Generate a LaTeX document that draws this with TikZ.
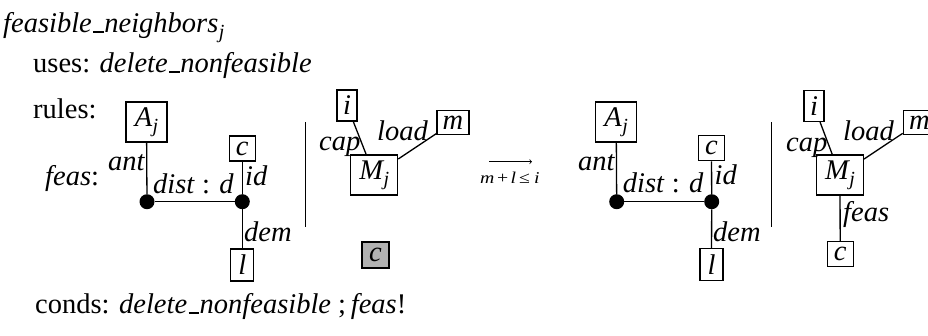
\documentclass[tikz,border=0pt]{standalone}
\usepackage{fontspec}
\setmainfont{Liberation Serif}
\newfontfamily\lblfont[FakeStretch=1.2]{Liberation Serif}
\usetikzlibrary{arrows}
\newcommand\us{\kern0.05em\rule[-0.02em]{0.37em}{0.07em}\kern0.02em}
\newcommand\sbj{\kern0.5pt\raisebox{-6pt}{\fontsize{20}{21}\selectfont\itshape j}}
\begin{document}
\begin{tikzpicture}[x=1pt,y=-1pt,
  every node/.style={font=\fontsize{28.5}{30}\selectfont},
  lbl/.style={anchor=base west,inner sep=0pt},
  box/.style={draw,line width=1.1pt,inner sep=0pt,font=\fontsize{28.5}{30}\selectfont\itshape},
  dot/.style={circle,fill,inner sep=0pt,minimum size=15pt},
  edge/.style={line width=1.3pt},
  sep/.style={line width=1.5pt}]
\path[use as bounding box] (0,0) rectangle (928,335);
% header
\node[lbl] (title) at (3,32) {\textit{feasible\us neighbors}\sbj};
\node[lbl] (uses) at (33,72) {uses: \textit{delete\us nonfeasible}};
\node[lbl] (rules) at (33,118) {rules:};
\node[lbl] (feaslbl) at (45,185) {\textit{feas}:};
\node[lbl] (conds) at (35,313) {conds: \textit{delete\us nonfeasible} ;\,\textit{feas}!};
% left graph
\node[box,minimum width=41pt,minimum height=40pt] (A1) at (146.5,122) {A\sbj};
\node[dot] (d1a) at (147,201.7) {};
\node[dot] (d1b) at (242.3,201.7) {};
\node[box,minimum width=26pt,minimum height=25pt] (c1) at (242.3,148.5) {c};
\node[box,minimum width=23pt,minimum height=32pt] (l1) at (242.3,265) {l};
\draw[edge] (A1) -- (d1a);
\draw[edge] (d1a) -- (d1b);
\draw[edge] (c1) -- (d1b);
\draw[edge] (d1b) -- (l1);
\node[lbl] (ant1) at (108,170) {\textit{ant}};
\node[lbl] (dist1) at (153,193) {\textit{dist} : \textit{d}};
\node[lbl] (id1) at (245,185) {\textit{id}};
\node[lbl] (dem1) at (244,241.7) {\textit{dem}};
\coordinate (v1t) at (305.7,122);
\coordinate (v1b) at (305.7,227);
\draw[sep] (v1t) -- (v1b);
\node[box,minimum width=20pt,minimum height=31pt] (i1) at (347,105.5) {i};
\node[box,minimum width=47pt,minimum height=40pt] (M1) at (374.2,175) {M\sbj};
\node[box,minimum width=32pt,minimum height=24pt] (m1) at (453,122.5) {m};
\draw[edge] (i1) -- (M1);
\draw[edge] (M1) -- (m1);
\node[lbl] (cap1) at (319,150) {\textit{cap}};
\node[lbl] (load1) at (377,140) {\textit{load}};
\node[box,fill=black!30,minimum width=27pt,minimum height=26pt] (cg) at (375.5,255) {c};
% arrow
\coordinate (a1) at (489,161.7);
\coordinate (a2) at (532,161.7);
\draw[line width=0.8pt,-to] (a1) -- (a2);
\node[anchor=base west,inner sep=0pt,font=\lblfont\fontsize{16.5}{17}\selectfont] (cond) at (480,183.3) {\textit{m}\kern2.5pt+\kern2.5pt\textit{l}\kern3pt≤\kern4pt\textit{i}};
% right graph
\node[box,minimum width=41pt,minimum height=40pt] (A2) at (616.2,122) {A\sbj};
\node[dot] (d2a) at (616.7,201.7) {};
\node[dot] (d2b) at (711.7,201.7) {};
\node[box,minimum width=26pt,minimum height=25pt] (c2) at (711.5,148.3) {c};
\node[box,minimum width=23pt,minimum height=32pt] (l2) at (711.5,264.8) {l};
\draw[edge] (A2) -- (d2a);
\draw[edge] (d2a) -- (d2b);
\draw[edge] (c2) -- (d2b);
\draw[edge] (d2b) -- (l2);
\node[lbl] (ant2) at (578,170) {\textit{ant}};
\node[lbl] (dist2) at (622.7,192.7) {\textit{dist} : \textit{d}};
\node[lbl] (id2) at (714.5,184.5) {\textit{id}};
\node[lbl] (dem2) at (713,241.7) {\textit{dem}};
\coordinate (v2t) at (771.7,122);
\coordinate (v2b) at (771.7,227);
\draw[sep] (v2t) -- (v2b);
\node[box,minimum width=20pt,minimum height=31pt] (i2) at (814,106) {i};
\node[box,minimum width=47pt,minimum height=40pt] (M2) at (840,175) {M\sbj};
\node[box,minimum width=32pt,minimum height=24pt] (m2) at (919.3,122.3) {m};
\node[box,minimum width=26pt,minimum height=25pt] (c3) at (840.2,254.2) {c};
\draw[edge] (i2) -- (M2);
\draw[edge] (M2) -- (m2);
\draw[edge] (M2) -- (c3);
\node[lbl] (cap2) at (786,151) {\textit{cap}};
\node[lbl] (load2) at (843,140.5) {\textit{load}};
\node[lbl] (feas2) at (843,221.7) {\textit{feas}};
\end{tikzpicture}
\end{document}
